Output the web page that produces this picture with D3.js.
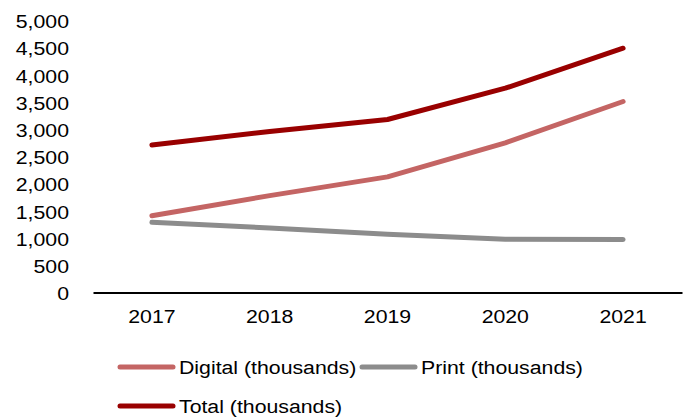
<!DOCTYPE html>
<html>
<head>
<meta charset="utf-8">
<script src="https://cdn.jsdelivr.net/npm/d3@7"></script>
<style>
  body { margin: 0; background: #fff; }
  svg text { font-family: "Liberation Sans", Arial, sans-serif; fill: #000; }
</style>
</head>
<body>
<div class="c_chart"></div>
<script>
/*DATA
------------------------------------------------------
*/
const years = ["2017", "2018", "2019", "2020", "2021"];
const digital = [1420, 1790, 2135, 2760, 3520];
const print = [1300, 1195, 1080, 990, 985];
const total = [2720, 2970, 3190, 3765, 4500];
const yTicks = [0, 500, 1000, 1500, 2000, 2500, 3000, 3500, 4000, 4500, 5000];

const seriesNames = ["Digital (thousands)", "Print (thousands)", "Total (thousands)"];
const seriesColors = ["#c46564", "#8c8c8c", "#990000"];

/*SVG, FORMAT
------------------------------------------------------
*/
const width = 685;
const height = 418;
const stretch = "scale(1.12,1)"; // text in the picture is a little wide

let svg = d3.select(".c_chart")
	.append("svg")
	.attr("width", width)
	.attr("height", height);

const fmt = d3.format(",");

/*SCALES
------------------------------------------------------
*/
const x = d3.scaleBand()
	.domain(years)
	.range([93, 682]);

const y = d3.scaleLinear()
	.domain([0, 5000])
	.range([293, 21]);

/*AXES
------------------------------------------------------
*/
const yAxis = svg.append("g")
	.attr("transform", "translate(69,0)")
	.call(d3.axisLeft(y).tickValues(yTicks).tickFormat(fmt).tickSize(0).tickPadding(0));
yAxis.select(".domain").remove();
yAxis.selectAll("text")
	.attr("font-size", "19px")
	.attr("dy", "0.35em")
	.attr("transform", stretch);

const xAxis = svg.append("g")
	.attr("transform", "translate(0,292.5)")
	.call(d3.axisBottom(x).tickSize(0).tickPadding(17));
xAxis.select(".domain")
	.attr("stroke", "#000")
	.attr("stroke-width", 2);
xAxis.selectAll("text")
	.attr("font-size", "19px")
	.attr("transform", stretch);

/*LINES
------------------------------------------------------
*/
const line = d3.line()
	.x((d, i) => x(years[i]) + x.bandwidth() / 2)
	.y(d => y(d));

[digital, print, total].forEach(function(values, k){
	svg.append("path")
		.datum(values)
		.attr("d", line)
		.attr("fill", "none")
		.attr("stroke", seriesColors[k])
		.attr("stroke-width", 5)
		.attr("stroke-linecap", "round")
		.attr("stroke-linejoin", "round");
});

/*LEGEND
------------------------------------------------------
*/
const legendPos = [[120, 367], [362, 367], [120, 406]];

const legend = svg.append("g")
	.selectAll("g")
	.data(seriesNames)
	.enter()
	.append("g")
	.attr("transform", (d, i) => "translate(" + legendPos[i][0] + "," + legendPos[i][1] + ")");

legend.append("line")
	.attr("x1", 0)
	.attr("x2", 53)
	.attr("stroke", (d, i) => seriesColors[i])
	.attr("stroke-width", 5)
	.attr("stroke-linecap", "round");

legend.append("text")
	.attr("transform", "translate(59,0) " + stretch)
	.attr("dy", "0.35em")
	.attr("font-size", "19px")
	.text(d => d);
</script>
</body>
</html>
